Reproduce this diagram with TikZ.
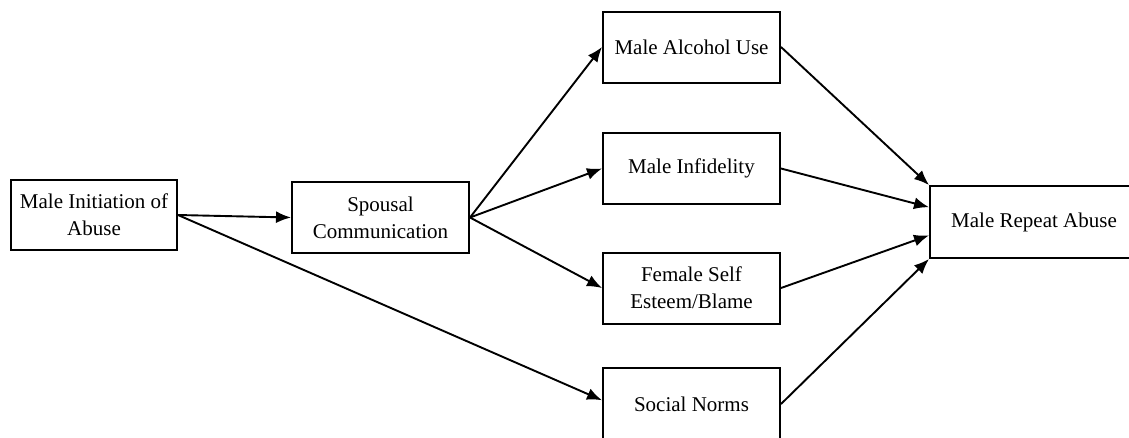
\documentclass[tikz,border=0pt]{standalone}
\usepackage{fontspec}
\setmainfont{Liberation Serif}
\usetikzlibrary{arrows.meta,calc}
\begin{document}
\begin{tikzpicture}[x=1pt,y=-1pt,
  box/.style={draw,line width=2pt,minimum height=71pt,inner sep=2pt,align=center,
    font=\fontsize{21}{27}\selectfont},
  arr/.style={line width=1.9pt,-{Latex[length=15pt,width=12pt]}}]
\path[clip] (0,0) rectangle (1129,437);
\node[box,minimum width=166pt,minimum height=70pt] (init) at (94,215) {Male Initiation of\\Abuse};
\node[box,minimum width=177pt] (spouse) at (380.5,217.5) {Spousal\\Communication};
\node[box,minimum width=177pt] (alc) at (691.5,47) {Male Alcohol Use};
\node[box,minimum width=177pt] (inf) at (691.5,168.5) {Male Infidelity};
\node[box,minimum width=177pt] (fem) at (691.5,288) {Female Self\\Esteem/Blame};
\node[box,minimum width=177pt,minimum height=73pt] (soc) at (691.5,404) {Social Norms};
\node[box,minimum width=208pt,minimum height=72pt] (rep) at (1034,222) {Male Repeat Abuse};
\draw[arr] ($(init.north east)!0.5!(init.south east)$) -- (spouse.west);
\draw[arr] ($(init.north east)!0.5!(init.south east)$) -- ($(soc.north west)!0.45!(soc.south west)$);
\draw[arr] (spouse.east) -- (alc.west);
\draw[arr] (spouse.east) -- (inf.west);
\draw[arr] (spouse.east) -- (fem.west);
\draw[arr] (alc.east) -- (rep.north west);
\draw[arr] (inf.east) -- ($(rep.north west)!0.3!(rep.south west)$);
\draw[arr] (fem.east) -- ($(rep.north west)!0.68!(rep.south west)$);
\draw[arr] (soc.east) -- (rep.south west);
\end{tikzpicture}
\end{document}
